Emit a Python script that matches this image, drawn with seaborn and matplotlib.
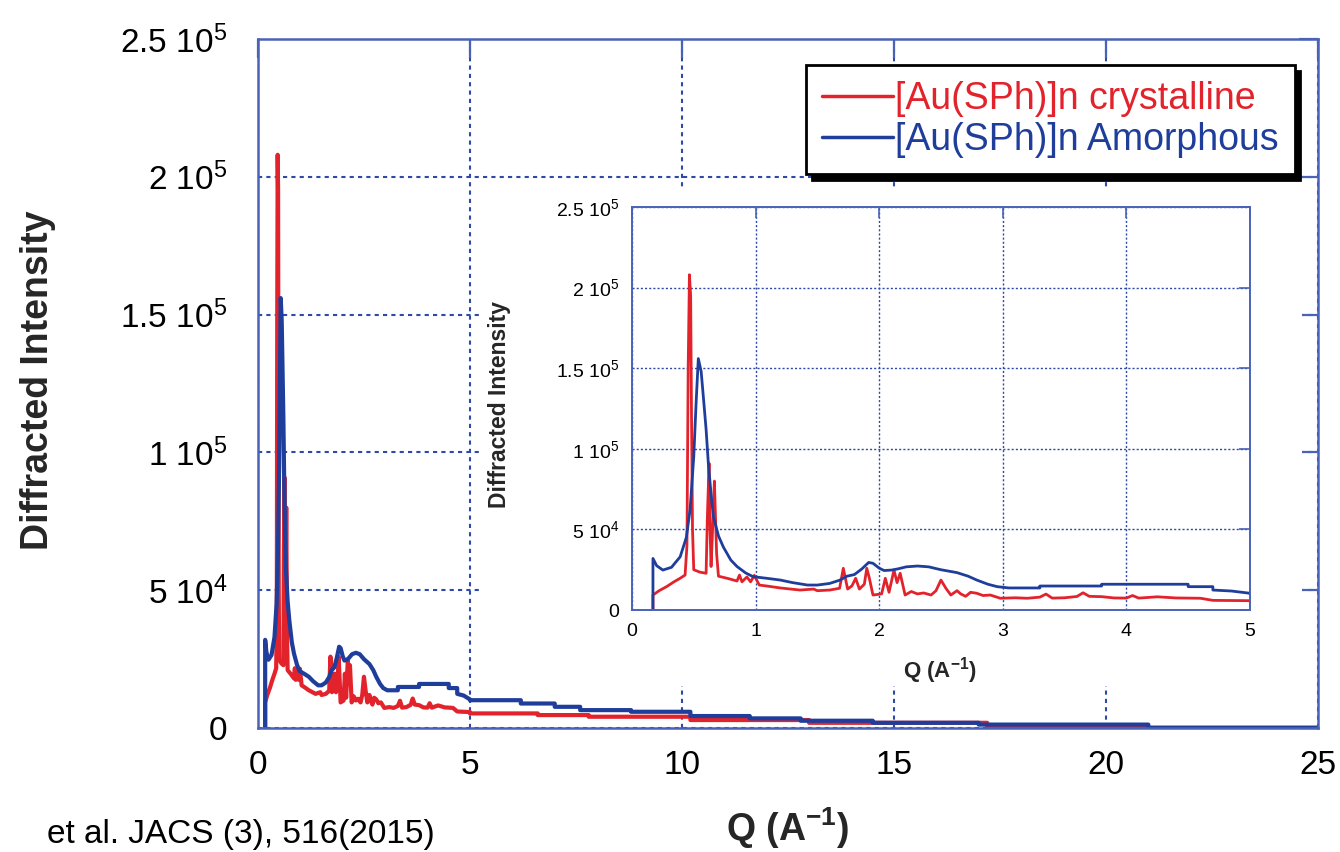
import matplotlib
matplotlib.use("Agg")
import matplotlib.pyplot as plt
from matplotlib.patches import Rectangle
import pandas as pd
import seaborn as sns

# ---- data -------------------------------------------------------------
series_names = ["[Au(SPh)]n crystalline", "[Au(SPh)]n Amorphous"]

q_crystalline = [
    0.17, 0.17, 0.22, 0.28, 0.34, 0.39, 0.43, 0.445, 0.455, 0.465, 0.475, 0.482,
    0.49, 0.50, 0.55, 0.60, 0.61, 0.624, 0.632, 0.64, 0.65, 0.667, 0.675, 0.685,
    0.70, 0.78, 0.85, 0.87, 0.89, 0.93, 0.96, 0.99, 1.03, 1.10, 1.20, 1.36, 1.47,
    1.50, 1.60, 1.68, 1.71, 1.745, 1.78, 1.81, 1.84, 1.88, 1.90, 1.92, 1.95, 2.02,
    2.05, 2.08, 2.12, 2.145, 2.17, 2.21, 2.26, 2.31, 2.36, 2.42, 2.46, 2.50, 2.54,
    2.58, 2.63, 2.66, 2.70, 2.74, 2.79, 2.84, 2.90, 2.98, 3.10, 3.20, 3.30, 3.35,
    3.40, 3.50, 3.60, 3.65, 3.70, 3.80, 3.90, 4.00, 4.05, 4.10, 4.25, 4.40, 4.60,
    4.70, 5.00, 5.00, 6.60, 6.60, 7.80, 7.80, 10.2, 10.2, 13.0, 13.0, 17.2, 17.2,
    21.0,
]
i_crystalline = [
    0, 9300, 12000, 14500, 17500, 19700, 21700, 40000, 150000, 208000, 195000,
    120000, 50000, 25000, 23500, 22800, 57000, 91000, 50000, 27000, 45000, 80000,
    60000, 35000, 21000, 19500, 18000, 21700, 17500, 20500, 17500, 21500, 15500,
    14800, 13700, 12400, 13000, 12000, 12400, 13500, 25900, 13000, 15000, 19700,
    13000, 16000, 25900, 20000, 9300, 10000, 19700, 11000, 24800, 17000, 22800,
    9300, 11500, 10000, 10600, 9300, 12000, 18600, 13500, 9300, 12000, 10000,
    8500, 11000, 10400, 9000, 9300, 7300, 7600, 7300, 8000, 9900, 7400, 7600,
    8400, 10700, 8500, 8300, 7500, 7400, 9000, 7400, 8200, 7500, 7300, 6000,
    5800, 5300, 5300, 4700, 4700, 4100, 4100, 2900, 2900, 1900, 1900, 700, 300,
]

q_amorphous = [
    0.17, 0.17, 0.20, 0.25, 0.32, 0.39, 0.44, 0.47, 0.50, 0.52, 0.537, 0.56,
    0.578, 0.60, 0.618, 0.64, 0.659, 0.70, 0.74, 0.80, 0.85, 0.92, 0.98, 1.10,
    1.20, 1.30, 1.42, 1.50, 1.60, 1.68, 1.74, 1.80, 1.86, 1.915, 1.95, 2.00,
    2.04, 2.10, 2.15, 2.22, 2.31, 2.40, 2.50, 2.63, 2.72, 2.79, 2.88, 2.955,
    3.05, 3.30, 3.30, 3.80, 3.80, 4.50, 4.50, 4.70, 4.70, 4.85, 5.00, 5.00,
    6.20, 6.20, 7.00, 7.00, 7.60, 7.60, 8.80, 8.80, 10.2, 10.2, 11.6, 11.6,
    12.8, 12.8, 14.5, 14.5, 17.0, 17.0, 21.0, 21.0, 25.0,
]
i_amorphous = [
    0, 32000, 27500, 24800, 26500, 33000, 45000, 62000, 95000, 130000, 156000,
    148000, 132000, 112000, 91000, 72000, 58000, 46000, 39000, 31000, 27000,
    23000, 20700, 19600, 18600, 17000, 15500, 15500, 16500, 18500, 21000, 22000,
    25500, 29500, 29000, 26000, 24500, 24800, 25500, 26800, 27300, 26800, 25000,
    23200, 21000, 18600, 16000, 14500, 13700, 13700, 14900, 14900, 16000, 16000,
    14500, 14500, 12400, 11800, 10400, 10100, 10100, 8900, 8900, 7700, 7700,
    6500, 6500, 5900, 5900, 4350, 4350, 3500, 3500, 2650, 2650, 1900, 1900,
    1250, 1250, 150, 150,
]

y_ticks = [0, 50000, 100000, 150000, 200000, 250000]
y_tick_labels = ["0", "5 10$^{4}$", "1 10$^{5}$", "1.5 10$^{5}$",
                 "2 10$^{5}$", "2.5 10$^{5}$"]
main_x_ticks = [0, 5, 10, 15, 20, 25]
inset_x_ticks = [0, 1, 2, 3, 4, 5]

df = pd.concat([
    pd.DataFrame({"Q": q_crystalline, "I": i_crystalline, "sample": series_names[0]}),
    pd.DataFrame({"Q": q_amorphous, "I": i_amorphous, "sample": series_names[1]}),
], ignore_index=True)

# ---- style ------------------------------------------------------------
sns.set_theme(style="white")
plt.rcParams["font.family"] = ["Liberation Sans", "DejaVu Sans"]
plt.rcParams["mathtext.fontset"] = "custom"
plt.rcParams["mathtext.rm"] = "Liberation Sans"
plt.rcParams["mathtext.it"] = "Liberation Sans:italic"
plt.rcParams["mathtext.bf"] = "Liberation Sans:bold"

RED = "#e3232c"
BLUE = "#1f3e9c"
SPINE = "#4a63b8"
GRID = "#2d4aa8"
palette = {series_names[0]: RED, series_names[1]: BLUE}

fig = plt.figure(figsize=(13.4, 8.52), dpi=100)
fig.patch.set_facecolor("white")

# ---- main axes --------------------------------------------------------
ax = fig.add_axes([0.1925, 0.1455, 0.7910, 0.8087])
ax.set_zorder(0)
sns.lineplot(data=df, x="Q", y="I", hue="sample", palette=palette,
             estimator=None, sort=False, linewidth=3.0, ax=ax)
ax.set_xlim(0, 25)
ax.set_ylim(0, 250000)
ax.set_xticks(main_x_ticks)
ax.set_xticklabels([str(t) for t in main_x_ticks])
ax.set_yticks(y_ticks)
ax.set_yticklabels(y_tick_labels)
ax.tick_params(axis="both", direction="in", length=14, width=1.6, color=SPINE,
               top=True, right=True, labelsize=24, labelcolor="black")
ax.tick_params(axis="y", pad=22)
ax.tick_params(axis="x", pad=16)
for s in ax.spines.values():
    s.set_color(SPINE)
    s.set_linewidth(1.8)
ax.grid(True, color=GRID, linewidth=1.5, linestyle=(0, (2, 2)))
ax.set_xlabel(r"Q (A$^{\mathbf{-1}}$)", fontsize=27, fontweight="bold")
ax.set_ylabel("Diffracted Intensity", fontsize=27, fontweight="bold")
ax.xaxis.set_label_coords(0.5, -0.112)
ax.yaxis.set_label_coords(-0.191, 0.505)

leg = ax.legend(loc="upper right", bbox_to_anchor=(0.978, 0.962),
                borderaxespad=0, fontsize=27, frameon=True, fancybox=False,
                labelcolor="linecolor", handlelength=1.9, handletextpad=0.06,
                labelspacing=0.14, borderpad=0.42,
                shadow={"ox": 4, "oy": -4, "color": "black", "alpha": 1})
leg.get_frame().set_edgecolor("black")
leg.get_frame().set_linewidth(2.0)
for line in leg.get_lines():
    line.set_linewidth(2.5)

# white panel that carries the inset
fig.add_artist(Rectangle((0.3597, 0.1948), 0.612, 0.5822, transform=fig.transFigure,
                         facecolor="white", edgecolor="none", zorder=0.5))

# ---- inset axes -------------------------------------------------------
ins = fig.add_axes([0.4716, 0.2840, 0.4612, 0.4730])
ins.set_zorder(1)
sns.lineplot(data=df, x="Q", y="I", hue="sample", palette=palette,
             estimator=None, sort=False, linewidth=2.0, ax=ins, legend=False)
ins.set_xlim(0, 5)
ins.set_ylim(0, 250000)
ins.set_xticks(inset_x_ticks)
ins.set_xticklabels([str(t) for t in inset_x_ticks])
ins.set_yticks(y_ticks)
ins.set_yticklabels(y_tick_labels)
ins.tick_params(axis="both", direction="in", length=8, width=1.2, color=SPINE,
                top=True, right=True, labelsize=14, labelcolor="black", pad=9)
for s in ins.spines.values():
    s.set_color(SPINE)
    s.set_linewidth(1.4)
ins.grid(True, color=GRID, linewidth=1.0, linestyle=(0, (1.5, 1.5)))
ins.set_xlabel(r"Q (A$^{\mathbf{-1}}$)", fontsize=16, fontweight="bold")
ins.set_ylabel("Diffracted Intensity", fontsize=16.5, fontweight="bold")
ins.xaxis.set_label_coords(0.498, -0.113)
ins.yaxis.set_label_coords(-0.196, 0.509)

# source note along the bottom edge
fig.text(0.035, 0.010, "et al. JACS (3), 516(2015)", fontsize=24,
         ha="left", va="baseline", color="black")

fig.savefig("out.png", dpi=100)
